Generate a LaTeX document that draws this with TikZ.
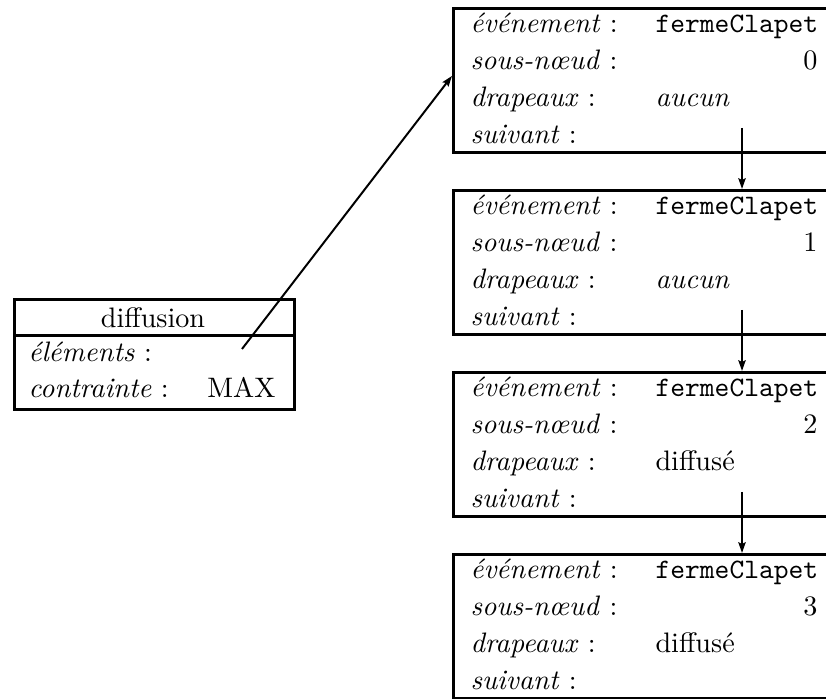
\documentclass[tikz,border=0pt]{standalone}
\usetikzlibrary{arrows.meta,calc}
\begin{document}
\begin{tikzpicture}[x=0.355pt,y=-0.355pt,
  recbox/.style={draw,line width=0.95pt,rectangle,minimum width=390*0.355pt,minimum height=144*0.355pt,inner sep=0pt,anchor=north west},
  hdrbox/.style={draw,line width=0.95pt,rectangle,minimum width=280*0.355pt,inner sep=0pt,anchor=north west},
  lbl/.style={anchor=mid west,inner sep=0pt},
  val/.style={anchor=mid west,inner sep=0pt},
  num/.style={anchor=mid east,inner sep=0pt},
  link/.style={line width=0.7pt,-{Stealth[length=3.8pt,width=2.6pt,inset=0.6pt]}}]
\useasboundingbox (0,0) rectangle (826,699);
\clip (0,0) rectangle (826,699);

% the "diffusion" record
\node[hdrbox,minimum height=36*0.355pt] (dhead) at (13,298) {};
\node[hdrbox,minimum height=74*0.355pt] (dbody) at (13,334) {};
\node (dname) at (153,318) {diffusion};
\node[lbl] (delem) at (28,355) {\textit{éléments} :};
\node[lbl] (dcon) at (28,391) {\textit{contrainte} :};
\node[num] (dmax) at (276,391) {MAX};
\coordinate (dptr) at (242,349);

% chain of event records
\foreach \i/\n/\fl in {1/0/\textit{aucun},2/1/\textit{aucun},3/2/diffusé,4/3/diffusé}{
  \pgfmathsetmacro{\top}{7+182*(\i-1)}
  \node[recbox] (ev\i) at (452,\top) {};
  \node[lbl] (ev\i a) at (470,\top+19) {\textit{événement} :};
  \node[val] (ev\i b) at (655,\top+19) {\texttt{fermeClapet}};
  \node[lbl] (ev\i c) at (470,\top+56) {\textit{sous-nœud} :};
  \node[num] (ev\i d) at (818,\top+56) {\n};
  \node[lbl] (ev\i e) at (470,\top+93) {\textit{drapeaux} :};
  \node[val] (ev\i f) at (655,\top+93) {\fl};
  \node[lbl] (ev\i g) at (470,\top+130) {\textit{suivant} :};
  \coordinate (nx\i) at (742,\top+121);
}

% pointers
\coordinate (ev1in) at ($(ev1.north west)!0.47!(ev1.south west)$);
\draw[link] (dptr) -- (ev1in);
\draw[link] (nx1) -- (nx1 |- ev2.north);
\draw[link] (nx2) -- (nx2 |- ev3.north);
\draw[link] (nx3) -- (nx3 |- ev4.north);
\end{tikzpicture}
\end{document}
